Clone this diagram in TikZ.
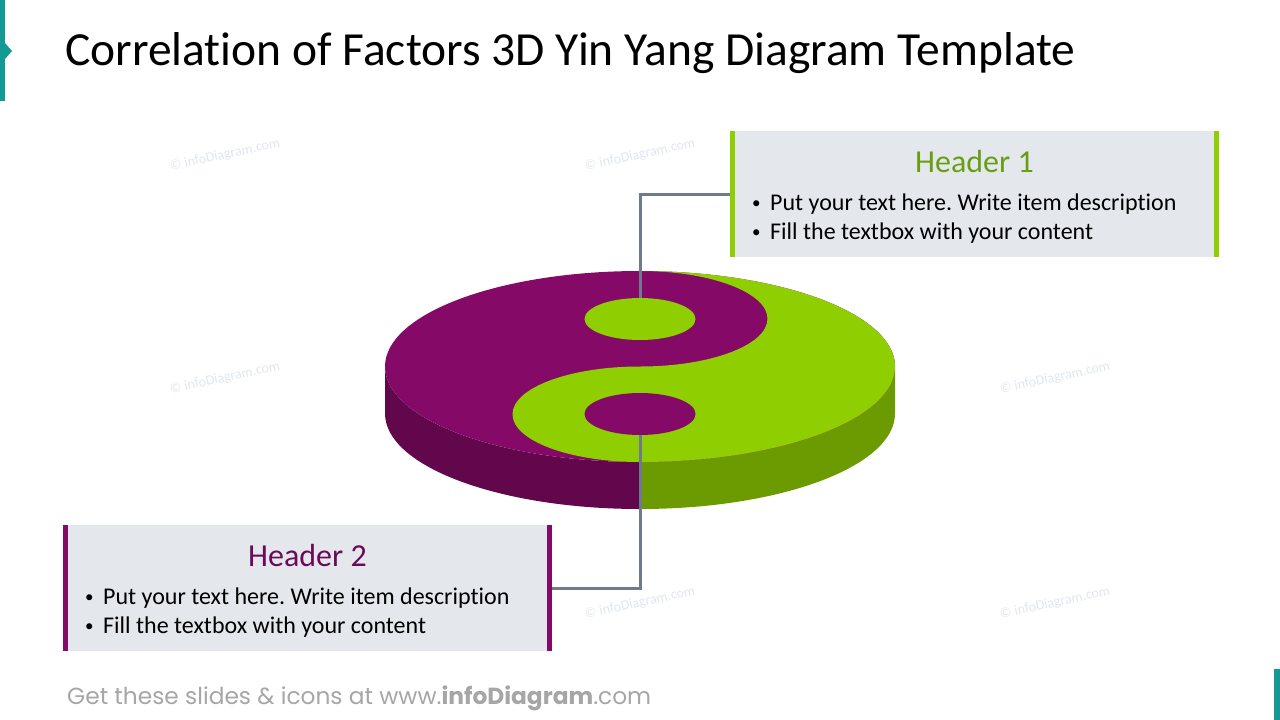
\documentclass[tikz,border=0pt]{standalone}
\usepackage{fontspec}
\setmainfont{Carlito}[Ligatures={NoCommon}]
\newfontfamily\footfont{Poppins}
\usepackage{tikz}
\usetikzlibrary{positioning, shapes.geometric}
\frenchspacing

\definecolor{yinpurple}{HTML}{850A68}
\definecolor{yinpurpledark}{HTML}{62074B}
\definecolor{yanggreen}{HTML}{8FCE00}
\definecolor{yanggreendark}{HTML}{6B9B00}
\definecolor{headgreen}{HTML}{6A9E12}
\definecolor{headpurple}{HTML}{6B0B58}
\definecolor{accentteal}{HTML}{139A94}
\definecolor{linkgray}{HTML}{6D7B8D}
\definecolor{boxgray}{HTML}{E4E7EC}
\definecolor{markgray}{HTML}{E0E6F0}
\definecolor{footgray}{HTML}{A6A6A6}

\newcommand{\itemdot}{\makebox[19pt][l]{\hspace{1pt}\raisebox{2pt}{\fontsize{17}{20}\selectfont\textbullet}}}

\begin{document}
\begin{tikzpicture}[x=1pt, y=1pt,
    infobox/.style={fill=boxgray, minimum width=489pt, minimum height=126pt, inner sep=0pt},
    header/.style={font=\fontsize{32}{38}\selectfont, inner sep=0pt},
    bullet/.style={anchor=west, font=\fontsize{24}{29}\selectfont, inner sep=0pt},
    link/.style={draw=linkgray, line width=3pt},
    dot/.style={ellipse, minimum width=111pt, minimum height=42pt, inner sep=0pt},
    watermark/.style={text=markgray, rotate=12, font=\fontsize{14}{17}\selectfont}
]
    \useasboundingbox (0,0) rectangle (1280,-720);

    % accents and title
    \fill[accentteal] (0,0) rectangle (5,-101);
    \fill[accentteal] (5,-43) -- (12,-51) -- (5,-59) -- cycle;
    \fill[accentteal] (1274,-669) rectangle (1280,-720);
    \node[anchor=west, inner sep=0pt, font=\fontsize{47.5}{57}\selectfont] (title) at (65,-53) {Correlation of Factors 3D Yin Yang Diagram Template};

    % watermarks
    \foreach \wx/\wy in {225/155, 640/155, 225/378, 1055/378, 640/603, 1055/603}
        \node[watermark] at (\wx,-\wy) {\textcopyright\ infoDiagram.com};

    % 3D yin yang disk
    \fill[yinpurpledark] (385,-366.5) -- (385,-413.5) arc[start angle=180, end angle=270, x radius=255, y radius=95.5] -- (640,-462) arc[start angle=270, end angle=180, x radius=255, y radius=95.5] -- cycle;
    \fill[yanggreendark] (895,-366.5) -- (895,-413.5) arc[start angle=0, end angle=-90, x radius=255, y radius=95.5] -- (640,-462) arc[start angle=-90, end angle=0, x radius=255, y radius=95.5] -- cycle;
    \fill[yinpurple] (640,-366.5) ellipse[x radius=255, y radius=95.5];
    \fill[yanggreen] (640,-271) arc[start angle=90, end angle=-90, x radius=255, y radius=95.5]
        arc[start angle=-90, end angle=-270, x radius=127.5, y radius=47.75]
        arc[start angle=-90, end angle=90, x radius=127.5, y radius=47.75] -- cycle;
    \node[dot, fill=yanggreen] (dot1) at (640,-319) {};
    \node[dot, fill=yinpurple] (dot2) at (640,-414) {};

    % text boxes
    \node[infobox] (box1) at (974.5,-194) {};
    \fill[yanggreen] (box1.north west) rectangle ([xshift=5pt]box1.south west);
    \fill[yanggreen] ([xshift=-5pt]box1.north east) rectangle (box1.south east);
    \node[header, text=headgreen] (head1) at ([yshift=-31pt]box1.north) {Header 1};
    \node[bullet] (item11) at (751,-204) {\itemdot Put your text here. Write item description};
    \node[bullet] (item12) at (751,-233) {\itemdot Fill the textbox with your content};

    \node[infobox] (box2) at (307.5,-588) {};
    \fill[yinpurple] (box2.north west) rectangle ([xshift=5pt]box2.south west);
    \fill[yinpurple] ([xshift=-5pt]box2.north east) rectangle (box2.south east);
    \node[header, text=headpurple] (head2) at ([yshift=-31pt]box2.north) {Header 2};
    \node[bullet] (item21) at (84,-598) {\itemdot Put your text here. Write item description};
    \node[bullet] (item22) at (84,-627) {\itemdot Fill the textbox with your content};

    % connectors
    \draw[link] (dot1.north) |- (box1.west);
    \draw[link] (dot2.south) |- (box2.east);

    % footer
    \node[anchor=west, inner sep=0pt, text=footgray, font=\footfont\fontsize{23.3}{28}\selectfont] (footer) at (67,-698) {Get these slides \& icons at www.\textbf{infoDiagram}.com};
\end{tikzpicture}
\end{document}
